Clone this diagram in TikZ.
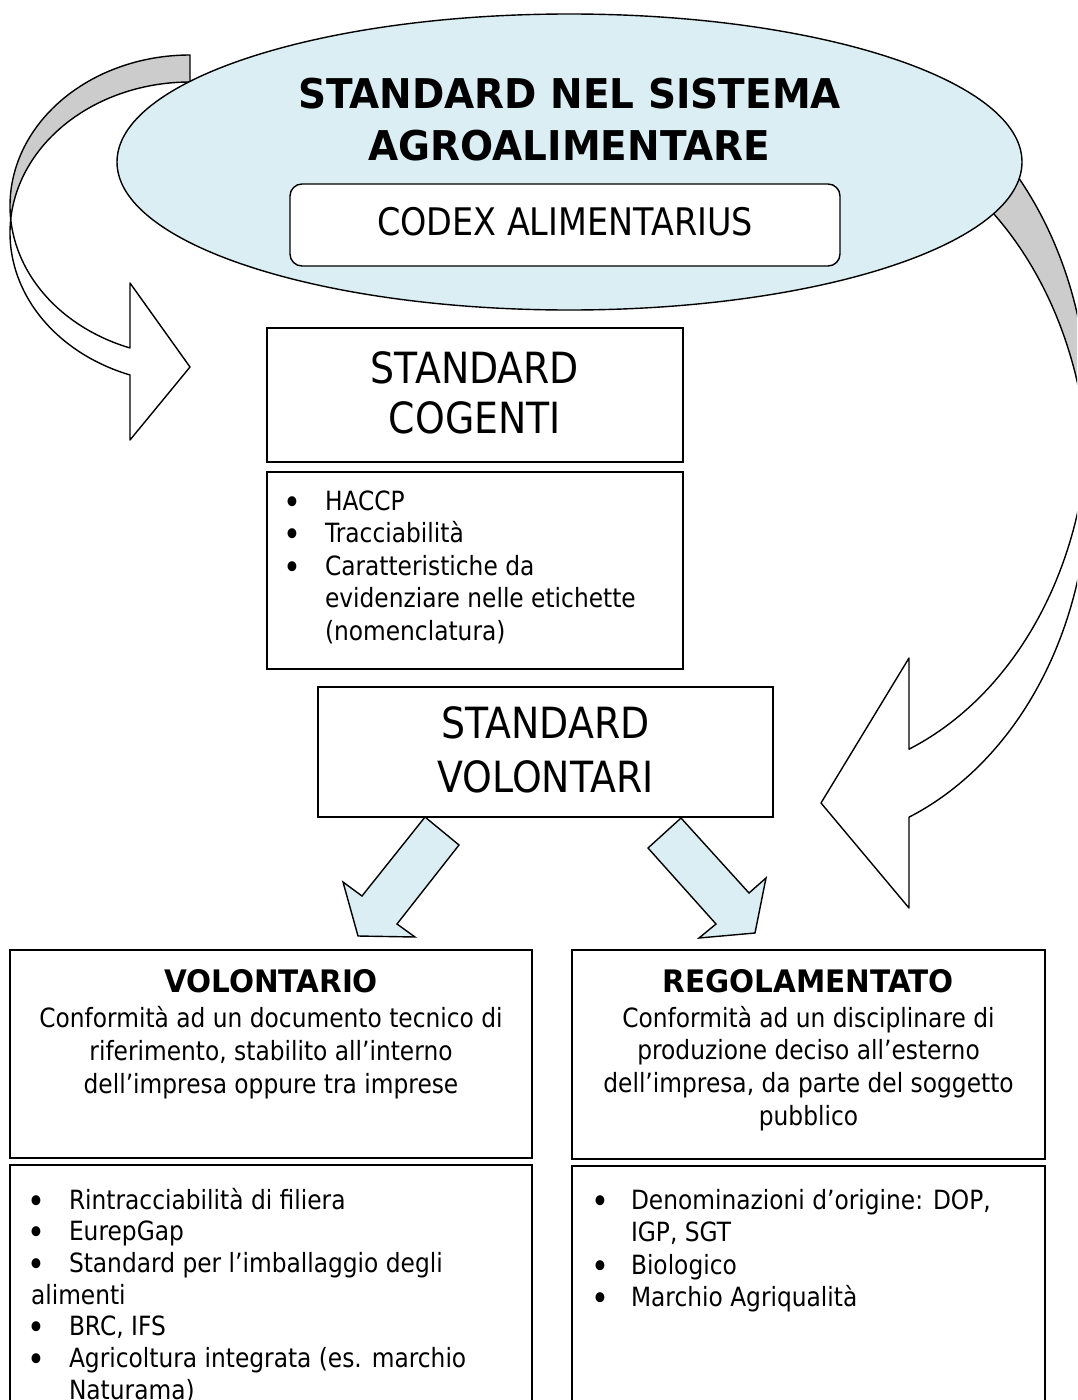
\documentclass[tikz,border=0pt]{standalone}
\usepackage{graphicx}
\usepackage{fontspec}
\setmainfont{DejaVu Sans}[FakeStretch=0.88]
\newfontfamily\headfont{DejaVu Sans Bold}[FakeStretch=0.95]
\usetikzlibrary{shapes.geometric}

\definecolor{paleblue}{RGB}{218,238,243}
\definecolor{bandgrey}{RGB}{204,204,204}

% bullet centred on the line start, followed by the text indent
\newcommand\bl[1]{\makebox[0pt][c]{\raisebox{-4pt}{\scalebox{1.3}{\textbullet}}}\hspace{#1}}

\begin{document}
\begin{tikzpicture}[x=1pt,y=-1pt,
  ln/.style={draw=black, line width=1.4pt},
  panel/.style={ln, rectangle, fill=white, inner sep=0pt, outer sep=0pt, anchor=north west},
  txt/.style={inner sep=0pt, outer sep=0pt},
  band/.style={ln, line join=round},
  blockarrow/.style={ln, fill=paleblue, line join=miter},
]
\useasboundingbox (0,0) rectangle (1077,1400);
\clip (0,0) rectangle (1077,1400);

% ---- curved arrow on the right (back face grey, front face white)
\filldraw[band, fill=bandgrey]
  plot[domain=-90:5.39, samples=80] ({800+288.5*cos(\x)},{414+362*sin(\x)})
  -- plot[domain=-5.39:-90, samples=80] ({800+288.5*cos(\x)},{482+362*sin(\x)})
  -- cycle;
\filldraw[band, fill=white]
  plot[domain=-5.39:67.8, samples=80] ({800+288.5*cos(\x)},{482+362*sin(\x)})
  -- (909,908) -- (821,803) -- (909,658) -- (909,749.2)
  -- plot[domain=67.8:5.39, samples=80] ({800+288.5*cos(\x)},{414+362*sin(\x)})
  -- cycle;

% ---- curved arrow on the left
\filldraw[band, fill=bandgrey]
  plot[domain=270:174.86, samples=70] ({190+180*cos(\x)},{205.8+150.8*sin(\x)})
  -- plot[domain=185.14:270, samples=70] ({190+180*cos(\x)},{232.8+150.8*sin(\x)})
  -- cycle;
\filldraw[band, fill=white]
  plot[domain=185.14:109.47, samples=70] ({190+180*cos(\x)},{232.8+150.8*sin(\x)})
  -- (130,440) -- (190,367) -- (130,283) -- (130,348)
  -- plot[domain=109.47:174.86, samples=70] ({190+180*cos(\x)},{205.8+150.8*sin(\x)})
  -- cycle;

% ---- title ellipse
\node[ellipse, ln, fill=paleblue, minimum width=905, minimum height=296, inner sep=0pt] (ell) at (569.5,162) {};
\node[txt, anchor=base] (ttl) at (569.5,108)
  {\parbox[t]{800pt}{\centering\headfont\fontsize{41}{52}\selectfont STANDARD NEL SISTEMA\\AGROALIMENTARE}};

\node[panel, rounded corners=12pt, minimum width=550, minimum height=82] (codex) at (290,184) {};
\node[txt, anchor=base] (codextxt) at (565,235) {\fontsize{38}{46}\selectfont CODEX ALIMENTARIUS};

% ---- mandatory standards
\node[panel, minimum width=416, minimum height=134] (cog) at (267,328) {};
\node[txt, anchor=base] (cogtxt) at (475,383)
  {\parbox[t]{400pt}{\centering\fontsize{43}{50}\selectfont STANDARD\\COGENTI}};
\node[panel, minimum width=416, minimum height=197] (coglist) at (267,472) {};
\node[txt, anchor=base west] (coglisttxt) at (292.5,510)
  {\parbox[t]{380pt}{\raggedright\fontsize{26.5}{32.5}\selectfont%
\bl{32.5pt}HACCP\\
\bl{32.5pt}Tracciabilità\\
\bl{32.5pt}Caratteristiche da\\
\hspace*{32.5pt}evidenziare nelle etichette\\
\hspace*{32.5pt}(nomenclatura)}};

% ---- voluntary standards
\node[panel, minimum width=455, minimum height=130] (vol) at (318,687) {};
\node[txt, anchor=base] (voltxt) at (545.5,738)
  {\parbox[t]{400pt}{\centering\fontsize{43}{54}\selectfont STANDARD\\VOLONTARI}};

% ---- block arrows to the two branches
\draw[blockarrow] (425,817) -- (459,845) -- (397,924) -- (415,937) -- (358,936) -- (343,882) -- (362,896) -- cycle;
\draw[blockarrow] (681,818) -- (648,848) -- (716,924) -- (699,938) -- (755,933) -- (766,878) -- (749,893) -- cycle;

% ---- left branch
\node[panel, minimum width=522, minimum height=208] (volo) at (10,950) {};
\node[txt, anchor=base] (volohead) at (271,992) {\headfont\fontsize{31}{36}\selectfont VOLONTARIO};
\node[txt, anchor=base] (volotxt) at (271,1027.5)
  {\parbox[t]{510pt}{\centering\fontsize{26.5}{33}\selectfont Conformità ad un documento tecnico di\\riferimento, stabilito all’interno\\dell’impresa oppure tra imprese}};
\node[panel, minimum width=522, minimum height=270] (volist) at (10,1165) {};
\node[txt, anchor=base west] (volisttxt) at (36,1209)
  {\parbox[t]{480pt}{\raggedright\fontsize{26.5}{31.7}\selectfont%
\bl{33pt}Rintracciabilità di filiera\\
\bl{33pt}EurepGap\\
\bl{33pt}Standard per l’imballaggio degli\\
\hspace*{-5pt}alimenti\\
\bl{33pt}BRC, IFS\\
\bl{33pt}Agricoltura integrata (es. marchio\\
\hspace*{33pt}Naturama)}};

% ---- right branch
\node[panel, minimum width=473, minimum height=209] (reg) at (572,950) {};
\node[txt, anchor=base] (reghead) at (808.5,992) {\headfont\fontsize{31}{36}\selectfont REGOLAMENTATO};
\node[txt, anchor=base] (regtxt) at (808.5,1027)
  {\parbox[t]{465pt}{\centering\fontsize{26.5}{32.7}\selectfont Conformità ad un disciplinare di\\produzione deciso all’esterno\\dell’impresa, da parte del soggetto\\pubblico}};
\node[panel, minimum width=473, minimum height=270] (reglist) at (572,1166) {};
\node[txt, anchor=base west] (reglisttxt) at (600,1209)
  {\parbox[t]{440pt}{\raggedright\fontsize{26.5}{32.5}\selectfont%
\bl{31pt}Denominazioni d’origine: DOP,\\
\hspace*{31pt}IGP, SGT\\
\bl{31pt}Biologico\\
\bl{31pt}Marchio Agriqualità}};
\end{tikzpicture}
\end{document}
